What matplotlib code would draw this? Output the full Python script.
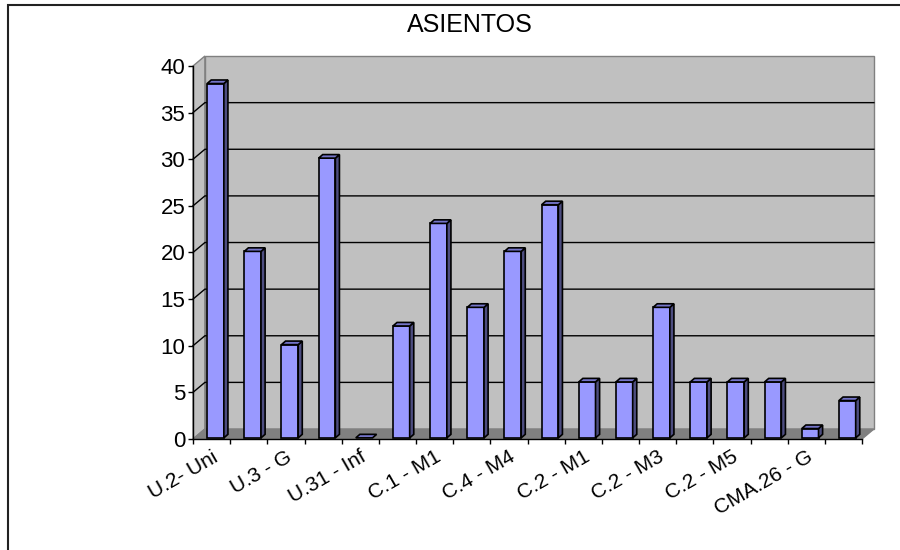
import matplotlib
matplotlib.use('Agg')
import numpy as np
import matplotlib.pyplot as plt
from matplotlib.patches import Polygon, Rectangle

plt.rcParams['font.family'] = ['Liberation Sans', 'DejaVu Sans']

titulo = 'ASIENTOS'
asientos = [38, 20, 10, 30, 0, 12, 23, 14, 20, 25, 6, 6, 14, 6, 6, 6, 1, 4]
# solo se rotula una de cada dos categorías
etiquetas = ['U.2- Uni', 'U.3 - G', 'U.31 - Inf', 'C.1 - M1', 'C.4 - M4',
             'C.2 - M1', 'C.2 - M3', 'C.2 - M5', 'CMA.26 - G']
ymax = 40
ypaso = 5

WALL = '#c0c0c0'
FLOOR = '#808080'
EDGE = '#808080'
FRONT = '#9999ff'
TOP = '#7474c8'
SIDE = '#4d4d80'

# desplazamiento de la pared del fondo (perspectiva), en unidades de datos
DX, DY = 0.32, 1.07
# profundidad de cada columna y su posición dentro de la categoría
BDX, BDY = 0.11, 0.38
BX0, BW, BLIFT = 0.38, 0.45, 0.12

fig = plt.figure(figsize=(9, 5.5), dpi=100)
ax = fig.add_axes([193 / 900, 111 / 550, 669 / 900, 373 / 550])
n = len(asientos)
ax.set_xlim(0, n)
ax.set_ylim(0, ymax)
ax.patch.set_visible(False)

# paredes y suelo
ax.add_patch(Polygon([(0, 0), (DX, DY), (DX, ymax + DY), (0, ymax)], closed=True,
                     fc=WALL, ec=EDGE, lw=1, clip_on=False, zorder=0))
ax.add_patch(Rectangle((DX, DY), n, ymax, fc=WALL, ec=EDGE, lw=1, clip_on=False, zorder=0))
for v in range(ypaso, ymax, ypaso):
    ax.plot([0, DX, n + DX], [v, v + DY, v + DY], color='black', lw=1,
            clip_on=False, zorder=1)
ax.add_patch(Polygon([(0, 0), (n, 0), (n + DX, DY), (DX, DY)], closed=True,
                     fc=FLOOR, ec=EDGE, lw=1, clip_on=False, zorder=1))

# columnas 3D: cara frontal, superior y lateral
for i, v in enumerate(asientos):
    x0 = i + BX0
    x1 = x0 + BW
    y0 = BLIFT
    y1 = v + BLIFT
    if v > 0:
        ax.add_patch(Rectangle((x0, y0), BW, v, fc=FRONT, ec='black', lw=1.2,
                               clip_on=False, zorder=3))
        ax.add_patch(Polygon([(x1, y0), (x1 + BDX, y0 + BDY), (x1 + BDX, y1 + BDY), (x1, y1)],
                             closed=True, fc=SIDE, ec='black', lw=1.2, clip_on=False, zorder=3))
    ax.add_patch(Polygon([(x0, y1), (x1, y1), (x1 + BDX, y1 + BDY), (x0 + BDX, y1 + BDY)],
                         closed=True, fc=TOP, ec='black', lw=1.2, clip_on=False, zorder=3))

for s in ['top', 'right']:
    ax.spines[s].set_visible(False)
for s in ['left', 'bottom']:
    ax.spines[s].set_color('black')
    ax.spines[s].set_linewidth(1)
    ax.spines[s].set_zorder(4)

ax.set_yticks(range(0, ymax + 1, ypaso))
ax.tick_params(axis='y', length=3.6, width=1, pad=2, labelsize=16, direction='out')

ax.set_xticks(np.arange(0, n, 2) + 0.5)
ax.set_xticklabels(etiquetas)
ax.set_xticks(range(n + 1), minor=True)
ax.tick_params(axis='x', which='major', length=0, pad=6, labelsize=15)
ax.tick_params(axis='x', which='minor', length=3.6, width=1, direction='out')
plt.setp(ax.get_xticklabels(), rotation=30, ha='right', rotation_mode='anchor')

fig.text(470 / 900, 1 - 32 / 550, titulo, ha='center', va='baseline', fontsize=18)

# marco del gráfico
fig.add_artist(Rectangle((8 / 900, -0.1), 1.5, 1.1 - 5 / 550, transform=fig.transFigure,
                         fill=False, ec='#222222', lw=1.5))

fig.savefig('out.png', dpi=100)
